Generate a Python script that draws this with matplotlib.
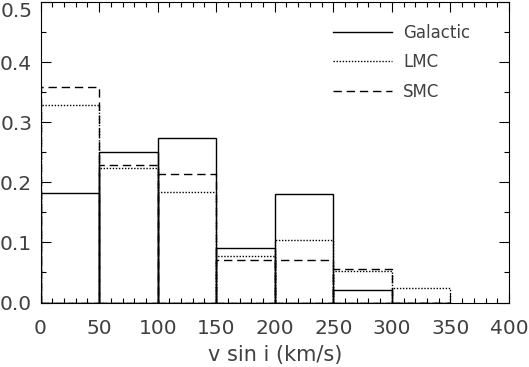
import numpy as np
import matplotlib.pyplot as plt
from matplotlib.ticker import MultipleLocator

bin_edges = [0, 50, 100, 150, 200, 250, 300]
galactic = [0.182, 0.250, 0.273, 0.090, 0.181, 0.021, 0.0]
lmc = [0.328, 0.223, 0.184, 0.077, 0.104, 0.052, 0.0245]
smc = [0.358, 0.228, 0.214, 0.070, 0.070, 0.055, 0.0]

txt_col = "#404040"
plt.rcParams["font.family"] = "DejaVu Sans"
plt.rcParams["font.size"] = 14.5

fig = plt.figure(figsize=(5.29, 3.67), dpi=100)
ax = fig.add_axes([0.0766, 0.1757, 0.8856, 0.819])

dot = (0, (1, 1.2))
dash = (0, (6, 3.5))
series = [(galactic, "-", "Galactic"), (lmc, dot, "LMC"), (smc, dash, "SMC")]
for vals, ls, lab in series:
    ax.bar(bin_edges, vals, width=50, align="edge", fill=False,
           edgecolor="black", linestyle=ls, linewidth=1.0)
    ax.plot([], [], color="black", linestyle=ls, linewidth=1.0, label=lab)

ax.set_xlim(0, 400)
ax.set_ylim(0, 0.5)
ax.xaxis.set_major_locator(MultipleLocator(50))
ax.xaxis.set_minor_locator(MultipleLocator(10))
ax.set_yticks([0.0, 0.1, 0.2, 0.3, 0.4, 0.5])
ax.set_yticklabels(["0.0", "0.1", "0.2", "0.3", "0.4", "0.5"])
ax.yaxis.set_minor_locator(MultipleLocator(0.05))
ax.tick_params(which="both", direction="in", top=True, right=True,
               colors="black", labelcolor=txt_col, width=0.8)
ax.tick_params(axis="x", which="major", length=7, pad=12)
ax.tick_params(axis="y", which="major", length=7, pad=6)
ax.tick_params(which="minor", length=3.5)
ax.get_yticklabels()[-1].set_verticalalignment("top")
ax.set_xlabel("v sin i (km/s)", color=txt_col, labelpad=5, fontsize=15)

leg = ax.legend(loc="upper left", frameon=False, handlelength=3.55,
                handletextpad=0.66, labelspacing=0.70, fontsize=12,
                borderpad=0, borderaxespad=0, bbox_to_anchor=(0.624, 0.928))
for t in leg.get_texts():
    t.set_color(txt_col)

fig.savefig("out.png", dpi=100)
